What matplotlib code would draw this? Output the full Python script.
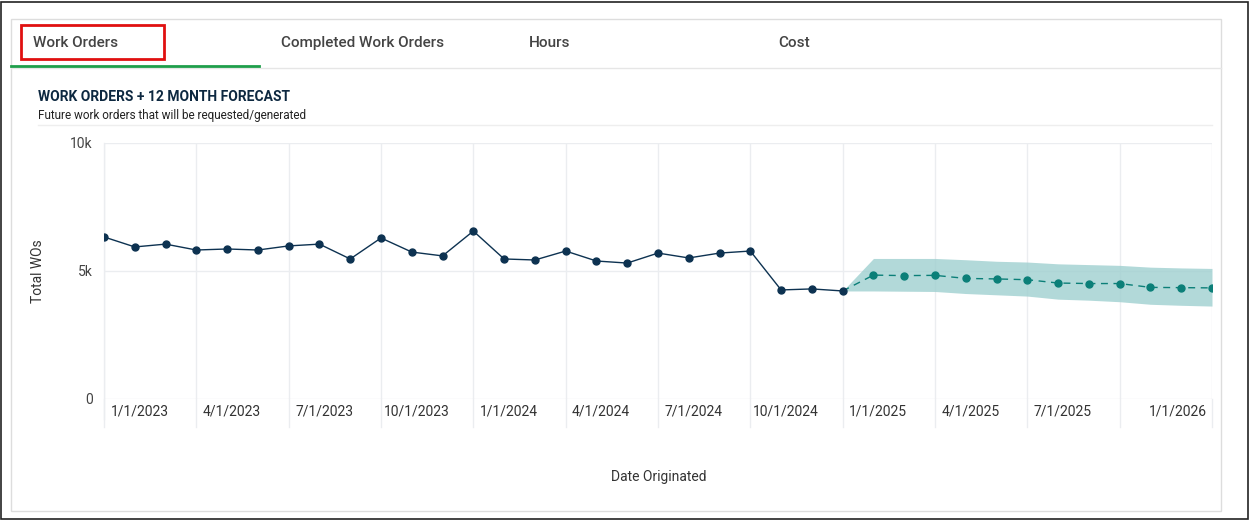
import matplotlib.pyplot as plt
from matplotlib.patches import Rectangle

plt.rcParams['font.family'] = ['Roboto', 'DejaVu Sans']

# months since 1/1/2023
hist_vals = [6.33, 5.94, 6.05, 5.82, 5.86, 5.82, 5.98, 6.05, 5.47, 6.29, 5.74, 5.59,
             6.56, 5.47, 5.43, 5.78, 5.39, 5.31, 5.70, 5.51, 5.70, 5.78, 4.26, 4.30, 4.22]
fc_vals = [4.84, 4.82, 4.83, 4.71, 4.69, 4.66, 4.53, 4.51, 4.51, 4.36, 4.35, 4.34]
fc_upper = [5.49, 5.49, 5.49, 5.44, 5.38, 5.35, 5.28, 5.25, 5.22, 5.15, 5.12, 5.10]
fc_lower = [4.22, 4.21, 4.20, 4.12, 4.07, 4.02, 3.90, 3.86, 3.80, 3.70, 3.66, 3.63]
tick_labels = ['1/1/2023', '4/1/2023', '7/1/2023', '10/1/2023', '1/1/2024', '4/1/2024',
               '7/1/2024', '10/1/2024', '1/1/2025', '4/1/2025', '7/1/2025', '', '1/1/2026']

W, H = 1250, 520
fig = plt.figure(figsize=(12.5, 5.2), dpi=100)
fig.patches.append(Rectangle((1/W, 1/H), 1 - 3/W, 1 - 3/H, transform=fig.transFigure,
                             fill=False, ec='#222222', lw=1.2))
fig.patches.append(Rectangle((11/W, 9/H), 1210/W, 492/H, transform=fig.transFigure,
                             fill=False, ec='#dddddd', lw=1))
# tabs
fig.lines.append(plt.Line2D([11/W, 1221/W], [1 - 68/H] * 2, transform=fig.transFigure, color='#e6e6e6', lw=1))
fig.lines.append(plt.Line2D([11/W, 259/W], [1 - 66/H] * 2, transform=fig.transFigure, color='#1e9e4a', lw=2))
fig.patches.append(Rectangle((21/W, 1 - 59/H), 143/W, 34/H, transform=fig.transFigure,
                             fill=False, ec='#e01010', lw=2))
for name, x in [('Work Orders', 33), ('Completed Work Orders', 281), ('Hours', 529), ('Cost', 778)]:
    fig.text(x/W, 1 - 43/H, name, fontsize=11, color='#444444', va='center', weight='medium')
fig.text(38/W, 1 - 97/H, 'WORK ORDERS + 12 MONTH FORECAST', fontsize=10, weight='bold', color='#0d2840', va='center')
fig.text(38/W, 1 - 115/H, 'Future work orders that will be requested/generated', fontsize=8.5, color='#222222', va='center')
fig.lines.append(plt.Line2D([38/W, 1212/W], [1 - 125/H] * 2, transform=fig.transFigure, color='#eeeeee', lw=1))

ax = fig.add_axes([104/W, 1 - 399/H, 1108/W, 256/H])
ax.set_axisbelow(True)
hx = list(range(len(hist_vals)))
fx = [len(hist_vals) - 1 + i + 1 for i in range(len(fc_vals))]
last = len(hist_vals) - 1
ax.fill_between([last] + fx, [hist_vals[-1]] + fc_upper, [hist_vals[-1]] + fc_lower,
                color='#9fd0d0', alpha=0.8, lw=0, zorder=2)
ax.plot([last] + fx, [hist_vals[-1]] + fc_vals, '--', color='#0b7f78', lw=1, dashes=(5, 4), zorder=3)
ax.plot(fx, fc_vals, 'o', color='#0b7f78', ms=5, zorder=3)
ax.plot(hx, hist_vals, '-o', color='#0d3251', lw=1, ms=5, mec='#0d3251', zorder=3)

ax.set_xlim(0, 36)
ax.set_ylim(0, 10)
ax.set_xticks(range(0, 37, 3))
ax.set_xticklabels([])
ax.set_yticks([0, 5, 10])
ax.set_yticklabels(['0', '5k', '10k'], fontsize=10, color='#444444')
ax.tick_params(axis='both', length=0, pad=8)
ax.grid(True, color='#ebedf0', lw=1, zorder=0)
for s in ax.spines.values():
    s.set_visible(False)
ax.plot([0, 0], [-0.8, 10], color='#ebedf0', lw=1, clip_on=False, zorder=0)
for i, lab in enumerate(tick_labels):
    xm = i * 3
    ax.plot([xm, xm], [-1.1, 0], color='#ebedf0', lw=1, clip_on=False, zorder=0)
    if not lab:
        continue
    pos = xm + 1.15 if i < 12 else xm - 1.1
    ax.text(pos, -0.5, lab, ha='center', va='center', fontsize=10, color='#333333', clip_on=False)
ax.set_ylabel('Total WOs', fontsize=10, color='#333333', labelpad=18)
fig.text(659/W, 1 - 477/H, 'Date Originated', ha='center', va='center', fontsize=10, color='#333333')

fig.savefig('out.png', dpi=100, facecolor='white')
